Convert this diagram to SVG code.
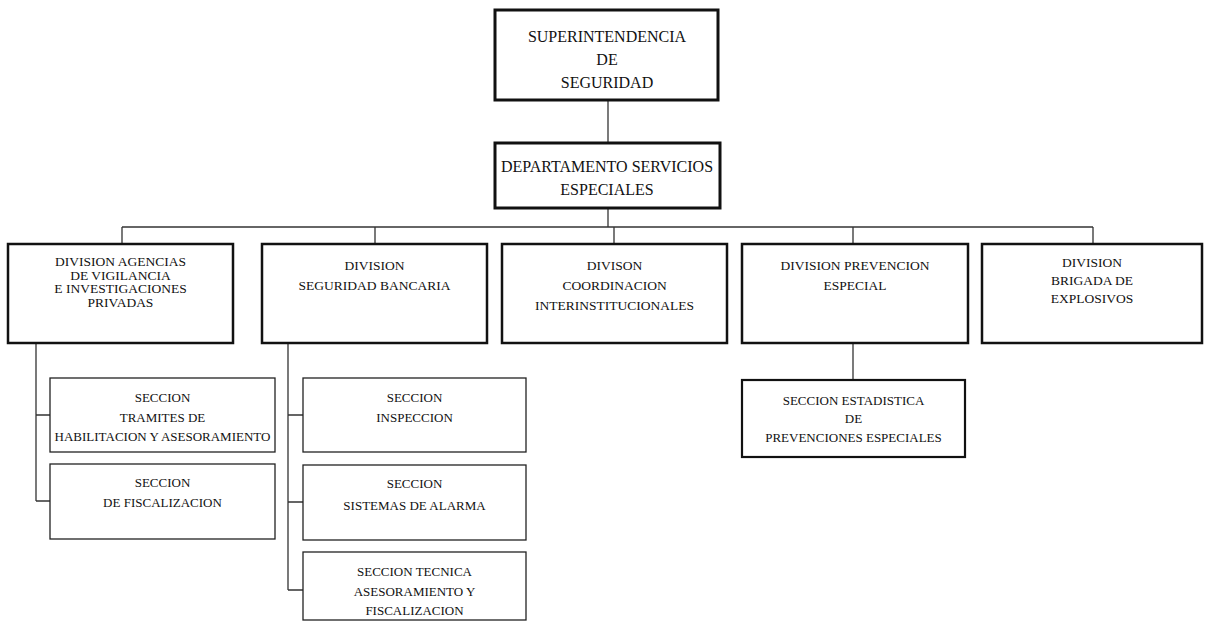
<svg xmlns="http://www.w3.org/2000/svg" width="1205" height="627" viewBox="0 0 1205 627">
<style>
  text { font-family: "Liberation Serif", "Times New Roman", serif; fill: #111; text-anchor: middle; }
  .t16 { font-size: 16px; }
  .t13 { font-size: 13.5px; }
  .t12 { font-size: 13px; }
  .top { fill: #fff; stroke: #111; stroke-width: 3; }
  .div { fill: #fff; stroke: #111; stroke-width: 2.5; }
  .sec { fill: #fff; stroke: #222; stroke-width: 1.3; }
  .sec2 { fill: #fff; stroke: #111; stroke-width: 2.2; }
  .conn { fill: none; stroke: #333; stroke-width: 1.3; }
</style>
<rect width="1205" height="627" fill="#fff"/>
<g id="connectors">
  <path class="conn" d="M608,100 V143"/>
  <path class="conn" d="M608,208 V227"/>
  <path class="conn" d="M122,227 H1093"/>
  <path class="conn" d="M122,227 V244 M375,227 V244 M614,227 V244 M853,227 V244 M1093,227 V244"/>
  <path class="conn" d="M36,343 V501 M36,415 H50 M36,501 H50"/>
  <path class="conn" d="M288,343 V590 M288,415 H303 M288,502 H303 M288,590 H303"/>
  <path class="conn" d="M853,343 V380"/>
</g>
<g id="superintendencia">
  <rect class="top" x="495" y="10" width="223" height="90"/>
  <text class="t16" x="607" y="42">SUPERINTENDENCIA</text>
  <text class="t16" x="607" y="65">DE</text>
  <text class="t16" x="607" y="88">SEGURIDAD</text>
</g>
<g id="departamento">
  <rect class="top" x="495" y="143" width="225" height="65"/>
  <text class="t16" x="607" y="172">DEPARTAMENTO  SERVICIOS</text>
  <text class="t16" x="607" y="195">ESPECIALES</text>
</g>
<g id="div-agencias">
  <rect class="div" x="8" y="244" width="225" height="99"/>
  <text class="t13" x="120.5" y="266">DIVISION AGENCIAS</text>
  <text class="t13" x="120.5" y="280">DE VIGILANCIA</text>
  <text class="t13" x="120.5" y="293">E INVESTIGACIONES</text>
  <text class="t13" x="120.5" y="307">PRIVADAS</text>
</g>
<g id="div-bancaria">
  <rect class="div" x="262" y="244" width="225" height="99"/>
  <text class="t13" x="374.5" y="270">DIVISION</text>
  <text class="t13" x="374.5" y="290">SEGURIDAD BANCARIA</text>
</g>
<g id="div-coordinacion">
  <rect class="div" x="502" y="244" width="225" height="99"/>
  <text class="t13" x="614.5" y="270">DIVISON</text>
  <text class="t13" x="614.5" y="290">COORDINACION</text>
  <text class="t13" x="614.5" y="310">INTERINSTITUCIONALES</text>
</g>
<g id="div-prevencion">
  <rect class="div" x="742" y="244" width="226" height="99"/>
  <text class="t13" x="855" y="270">DIVISION PREVENCION</text>
  <text class="t13" x="855" y="290">ESPECIAL</text>
</g>
<g id="div-brigada">
  <rect class="div" x="982" y="244" width="220" height="99"/>
  <text class="t13" x="1092" y="267">DIVISION</text>
  <text class="t13" x="1092" y="285">BRIGADA DE</text>
  <text class="t13" x="1092" y="303">EXPLOSIVOS</text>
</g>
<g id="sec-tramites">
  <rect class="sec" x="50" y="378" width="225" height="74"/>
  <text class="t12" x="162.5" y="402">SECCION</text>
  <text class="t12" x="162.5" y="422">TRAMITES  DE</text>
  <text class="t12" x="162.5" y="441">HABILITACION Y ASESORAMIENTO</text>
</g>
<g id="sec-fiscalizacion">
  <rect class="sec" x="50" y="464" width="225" height="75"/>
  <text class="t12" x="162.5" y="487">SECCION</text>
  <text class="t12" x="162.5" y="507">DE FISCALIZACION</text>
</g>
<g id="sec-inspeccion">
  <rect class="sec" x="303" y="378" width="223" height="74"/>
  <text class="t12" x="414.5" y="402">SECCION</text>
  <text class="t12" x="414.5" y="422">INSPECCION</text>
</g>
<g id="sec-alarma">
  <rect class="sec" x="303" y="465" width="223" height="75"/>
  <text class="t12" x="414.5" y="488">SECCION</text>
  <text class="t12" x="414.5" y="510">SISTEMAS DE ALARMA</text>
</g>
<g id="sec-tecnica">
  <rect class="sec" x="303" y="552" width="223" height="68"/>
  <text class="t12" x="414.5" y="576">SECCION TECNICA</text>
  <text class="t12" x="414.5" y="596">ASESORAMIENTO Y</text>
  <text class="t12" x="414.5" y="615">FISCALIZACION</text>
</g>
<g id="sec-estadistica">
  <rect class="sec2" x="742" y="380" width="223" height="77"/>
  <text class="t12" x="853.5" y="405">SECCION ESTADISTICA</text>
  <text class="t12" x="853.5" y="423">DE</text>
  <text class="t12" x="853.5" y="442">PREVENCIONES ESPECIALES</text>
</g>
</svg>
